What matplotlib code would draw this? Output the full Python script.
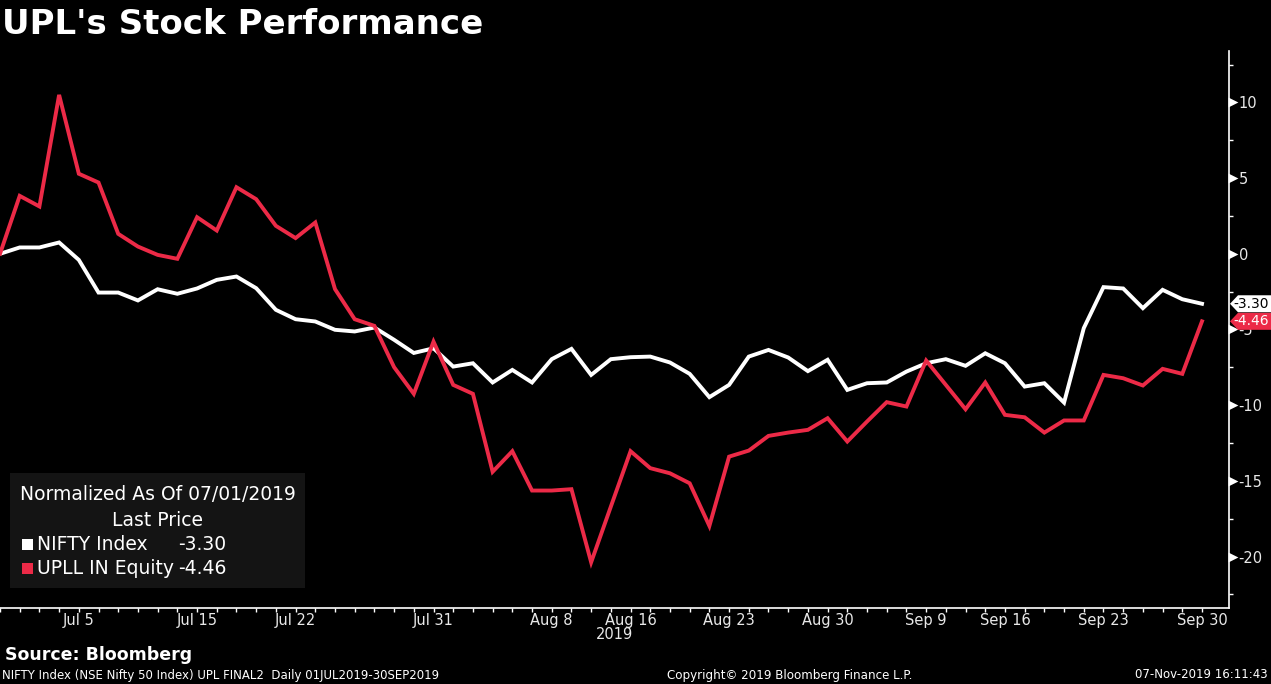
import matplotlib
matplotlib.use("Agg")
import matplotlib.pyplot as plt
import matplotlib.transforms as mtransforms
from matplotlib.patches import Polygon, Rectangle
import pandas as pd
import numpy as np

# ---------------- data ----------------
holidays = ["2019-08-12", "2019-08-15", "2019-09-02", "2019-09-10"]
dates = [d for d in pd.bdate_range("2019-07-01", "2019-09-30")
         if d.strftime("%Y-%m-%d") not in holidays]

nifty = [0.0, 0.42, 0.42, 0.75, -0.4, -2.56, -2.56, -3.08, -2.34, -2.64,
         -2.29, -1.72, -1.5, -2.27, -3.7, -4.32, -4.47, -5.02, -5.13, -4.87,
         -5.68, -6.55, -6.24, -7.45, -7.23, -8.5, -7.67, -8.5, -6.96, -6.28,
         -8.0, -6.96, -6.83, -6.79, -7.18, -7.93, -9.47, -8.66, -6.79, -6.35,
         -6.85, -7.75, -7.0, -8.99, -8.55, -8.5, -7.78, -7.23, -6.96, -7.4,
         -6.57, -7.23, -8.77, -8.55, -9.83, -4.91, -2.2, -2.29, -3.59, -2.38,
         -3.0, -3.30]
upl = [0.0, 3.83, 3.13, 10.5, 5.29, 4.71, 1.32, 0.48, -0.07, -0.33,
       2.42, 1.54, 4.4, 3.61, 1.85, 1.04, 2.07, -2.33, -4.32, -4.76,
       -7.49, -9.25, -5.8, -8.66, -9.25, -14.4, -13.04, -15.64, -15.64, -15.55,
       -20.38, -16.7, -13.04, -14.16, -14.5, -15.16, -17.98, -13.4, -13.0, -12.03,
       -11.81, -11.63, -10.86, -12.4, -11.08, -9.8, -10.09, -7.05, -8.66, -10.27,
       -8.5, -10.64, -10.8, -11.81, -11.01, -11.01, -8.0, -8.22, -8.7, -7.6,
       -7.93, -4.46]

series_names = ["NIFTY Index", "UPLL IN Equity"]
label_dates = ["2019-07-05", "2019-07-15", "2019-07-22", "2019-07-31",
               "2019-08-08", "2019-08-16", "2019-08-23", "2019-08-30",
               "2019-09-09", "2019-09-16", "2019-09-23", "2019-09-30"]
y_major = [10, 5, 0, -5, -10, -15, -20]

# ---------------- style ----------------
WHITE = "#ffffff"
RED = "#ec2a47"
BG = "#000000"
FONT = ["DejaVu Sans"]
plt.rcParams["font.family"] = ["DejaVu Sans"]

W, H = 1271, 684
fig = plt.figure(figsize=(W / 100, H / 100), dpi=100, facecolor=BG)
ax_l, ax_r, ax_b, ax_t = 0 / W, 1229 / W, (H - 608) / H, (H - 51) / H
ax = fig.add_axes([ax_l, ax_b, ax_r - ax_l, ax_t - ax_b], facecolor=BG)

x = np.arange(len(dates))
ax.plot(x, nifty, color=WHITE, lw=2.8, solid_joinstyle="miter", zorder=3)
ax.plot(x, upl, color=RED, lw=2.8, solid_joinstyle="miter", zorder=3)

ax.set_xlim(0, 62.37)
ax.set_ylim(-23.4, 13.4)

for s in ["top", "left"]:
    ax.spines[s].set_visible(False)
ax.spines["right"].set_color(WHITE)
ax.spines["bottom"].set_color(WHITE)
ax.spines["right"].set_linewidth(1.2)
ax.spines["bottom"].set_linewidth(1.2)

# x ticks: every trading day minor, labeled majors
date_str = [d.strftime("%Y-%m-%d") for d in dates]
major_idx = [date_str.index(s) for s in label_dates]
major_lbl = [dates[i].strftime("%b %-d") for i in major_idx]
ax.set_xticks(major_idx)
ax.set_xticklabels(major_lbl)
ax.set_xticks(x, minor=True)
ax.tick_params(axis="x", which="both", direction="out", colors=WHITE,
               length=3, width=1, pad=0.5)
for t in ax.get_xticklabels():
    t.set_family(FONT)
    t.set_fontsize(10.5)
    t.set_color("#e8e8e8")

# 2019 year label under Aug 16
ax.annotate("2019", xy=(date_str.index("2019-08-16"), 0), xycoords=("data", "axes fraction"),
            xytext=(-11.5, -14), textcoords="offset points", color="#e8e8e8",
            family=FONT, fontsize=10.5, ha="center", va="top")

# y ticks on right
ax.yaxis.tick_right()
ax.set_yticks(y_major)
ax.set_yticklabels([str(v) for v in y_major])
ax.set_yticks([12.5, 7.5, 2.5, -2.5, -7.5, -12.5, -17.5, -22.5], minor=True)
ax.tick_params(axis="y", which="major", length=0, pad=7, colors=WHITE)
ax.tick_params(axis="y", which="minor", length=3, width=1, direction="out", colors=WHITE)
for t in ax.get_yticklabels():
    t.set_family(FONT)
    t.set_fontsize(10.5)
    t.set_color("#e8e8e8")
# triangle markers at major ticks
tri_tr = mtransforms.offset_copy(ax.get_yaxis_transform(), fig=fig, x=3.5, y=0, units="dots")
ax.scatter([1.0] * len(y_major), y_major, marker=">", s=50, color=WHITE,
           transform=tri_tr, clip_on=False, zorder=5, linewidths=0)

# last-value tags
fig.canvas.draw()
def tag(val, face, txtcolor):
    _, ypix = ax.transData.transform((0, val))
    x0 = 1230
    hh = 8.5
    pts = [(x0, ypix), (x0 + 8, ypix + hh), (W, ypix + hh), (W, ypix - hh), (x0 + 8, ypix - hh)]
    pts = [(px / W, py / H) for px, py in pts]
    fig.patches.append(Polygon(pts, closed=True, transform=fig.transFigure,
                               facecolor=face, edgecolor="none", zorder=6))
    fig.text((W - 2) / W, ypix / H, f"{val:.2f}", color=txtcolor, family=FONT,
             fontsize=10, ha="right", va="center", zorder=7)
tag(nifty[-1], WHITE, "#000000")
tag(upl[-1], RED, WHITE)

# legend box
fig.patches.append(Rectangle((10 / W, (H - 588) / H), 295 / W, 115 / H,
                             transform=fig.transFigure, facecolor="#141414",
                             edgecolor="none", zorder=4))
fig.text(158 / W, (H - 495) / H, "Normalized As Of 07/01/2019", color=WHITE,
         family=FONT, fontsize=13.5, ha="center", va="center", zorder=5)
fig.text(158 / W, (H - 520) / H, "Last Price", color=WHITE,
         family=FONT, fontsize=13.5, ha="center", va="center", zorder=5)
for i, (name, vals, col) in enumerate(zip(series_names, [nifty, upl], [WHITE, RED])):
    yy = (H - 544 - 24 * i) / H
    fig.patches.append(Rectangle((22 / W, yy - 5.5 / H), 11 / W, 11 / H,
                                 transform=fig.transFigure, facecolor=col,
                                 edgecolor="none", zorder=5))
    fig.text(37 / W, yy, name, color=WHITE, family=FONT, fontsize=13.5,
             ha="left", va="center", zorder=5)
    fig.text(178 / W, yy, f"{vals[-1]:.2f}", color=WHITE, family=FONT, fontsize=13.5,
             ha="left", va="center", zorder=5)

# title and footer
fig.text(2 / W, (H - 24) / H, "UPL's Stock Performance", color=WHITE, fontsize=24.5,
         fontweight="bold", ha="left", va="center", family=["DejaVu Sans"])
fig.text(5 / W, (H - 655) / H, "Source: Bloomberg", color=WHITE, fontsize=12.5,
         fontweight="bold", ha="left", va="center", family=["DejaVu Sans"])
fig.text(2 / W, (H - 675) / H,
         "NIFTY Index (NSE Nifty 50 Index) UPL FINAL2  Daily 01JUL2019-30SEP2019",
         color=WHITE, fontsize=8.5, ha="left", va="center", family=FONT)
fig.text(790 / W, (H - 675) / H, "Copyright\u00a9 2019 Bloomberg Finance L.P.",
         color=WHITE, fontsize=8.6, ha="center", va="center", family=FONT)
fig.text(1268 / W, (H - 675) / H, "07-Nov-2019 16:11:43",
         color=WHITE, fontsize=8.5, ha="right", va="center", family=FONT)

fig.savefig("out.png", dpi=100, facecolor=BG)
